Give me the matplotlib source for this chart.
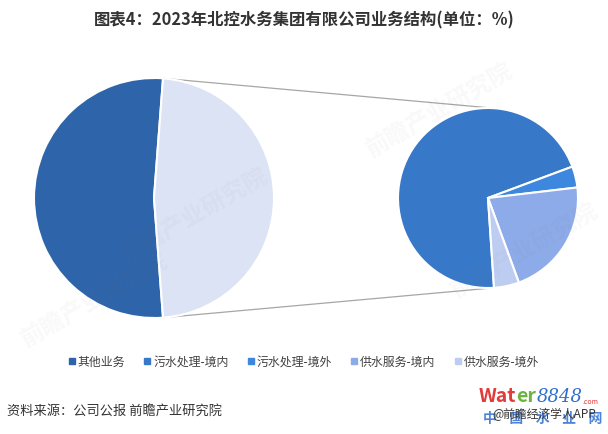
import matplotlib.pyplot as plt
from matplotlib.lines import Line2D
import numpy as np

plt.rcParams['font.family'] = ['Noto Sans CJK SC', 'DejaVu Sans']

# data (unit: %)
main_labels = ['其他业务', '水务业务']
main_values = [52.4, 47.6]
sub_labels = ['污水处理-境内', '污水处理-境外', '供水服务-境内', '供水服务-境外']
sub_values = [70.4, 3.8, 21.3, 4.5]

main_colors = ['#2E64A9', '#DCE3F5']
sub_colors = ['#3878C8', '#3D87DE', '#8DABE8', '#BDCDF2']

W, H = 608, 434
fig = plt.figure(figsize=(W / 100, H / 100), dpi=100)
ax = fig.add_axes([0, 0, 1, 1])

c1 = (154, H - 198)
r1 = 120
c2 = (488, H - 198)
r2 = 90

# left pie: "其他业务" on the left, water slice centred on the right
start1 = 180 * main_values[1] / 100
w1, _ = ax.pie(main_values, colors=main_colors, startangle=start1,
               center=c1, radius=r1, frame=True,
               wedgeprops=dict(edgecolor='white', linewidth=1.5))

# right pie: breakdown of water business
start2 = 20.4 + 360 * sub_values[0] / 100
w2, _ = ax.pie(sub_values, colors=sub_colors, startangle=start2, counterclock=False,
               center=c2, radius=r2, frame=True,
               wedgeprops=dict(edgecolor='white', linewidth=1.5))

# connector lines from the edges of the water slice to the second pie
a_top = w1[1].theta2
a_bot = w1[1].theta1
for a, b in [(a_top, 87), (a_bot, -86)]:
    x0 = c1[0] + r1 * np.cos(np.radians(a))
    y0 = c1[1] + r1 * np.sin(np.radians(a))
    x1 = c2[0] + r2 * np.cos(np.radians(b))
    y1 = c2[1] + r2 * np.sin(np.radians(b))
    ax.plot([x0, x1], [y0, y1], color='#A6A6A6', linewidth=0.9, zorder=0)

ax.set_xlim(0, W)
ax.set_ylim(0, H)
ax.set_aspect('auto')
ax.set_axis_off()

# faint watermarks
for (x, y) in [(195, H - 215), (440, H - 110), (525, H - 250), (95, H - 300)]:
    ax.text(x, y, '前瞻产业研究院', fontsize=17, color='#808080', alpha=0.05,
            rotation=30, ha='center', va='center', fontweight='bold', zorder=5)

fig.text(0.5, 1 - 20 / H, '图表4：2023年北控水务集团有限公司业务结构(单位：%)',
         ha='center', va='center', fontsize=11.8, fontweight='bold', color='#333333')

leg_labels = [main_labels[0]] + sub_labels
leg_colors = [main_colors[0]] + sub_colors
handles = [Line2D([], [], marker='s', linestyle='none', markersize=4.5,
                  markerfacecolor=c, markeredgecolor=c) for c in leg_colors]
fig.legend(handles, leg_labels, loc='center', bbox_to_anchor=(0.5, 1 - 362 / H),
           ncol=5, frameon=False, fontsize=8.6, handletextpad=0.25,
           columnspacing=1.6, handlelength=0.5, labelcolor='#404040')

fig.text(7 / W, 1 - 411 / H, '资料来源：公司公报 前瞻产业研究院', ha='left', va='center',
         fontsize=9.5, color='#333333')

# logo stamp
t1 = fig.text(479 / W, 1 - 397 / H, 'Wat', ha='left', va='center', fontsize=14,
              fontweight='bold', color='#E23B3B')
t2 = ax.annotate('er', xy=(1, 0), xycoords=t1, ha='left', va='bottom', fontsize=14,
                 fontweight='bold', color='#6DB33F')
t3 = ax.annotate('8848', xy=(1, 0), xycoords=t2, ha='left', va='bottom', fontsize=13,
                 fontstyle='italic', family='DejaVu Serif', color='#2E6FD0')
ax.annotate('.com', xy=(1, 0), xycoords=t3, ha='left', va='bottom', fontsize=5,
            color='#E23B3B')
fig.text(483 / W, 1 - 419 / H, '中    国    水    业    网', ha='left', va='center',
         fontsize=10, fontweight='bold', color='#2E6FD0', alpha=0.85)
fig.text(492 / W, 1 - 414 / H, '@前瞻经济学人APP', ha='left', va='center', fontsize=8.5,
         color='#333333')

fig.savefig('out.png', dpi=100)
